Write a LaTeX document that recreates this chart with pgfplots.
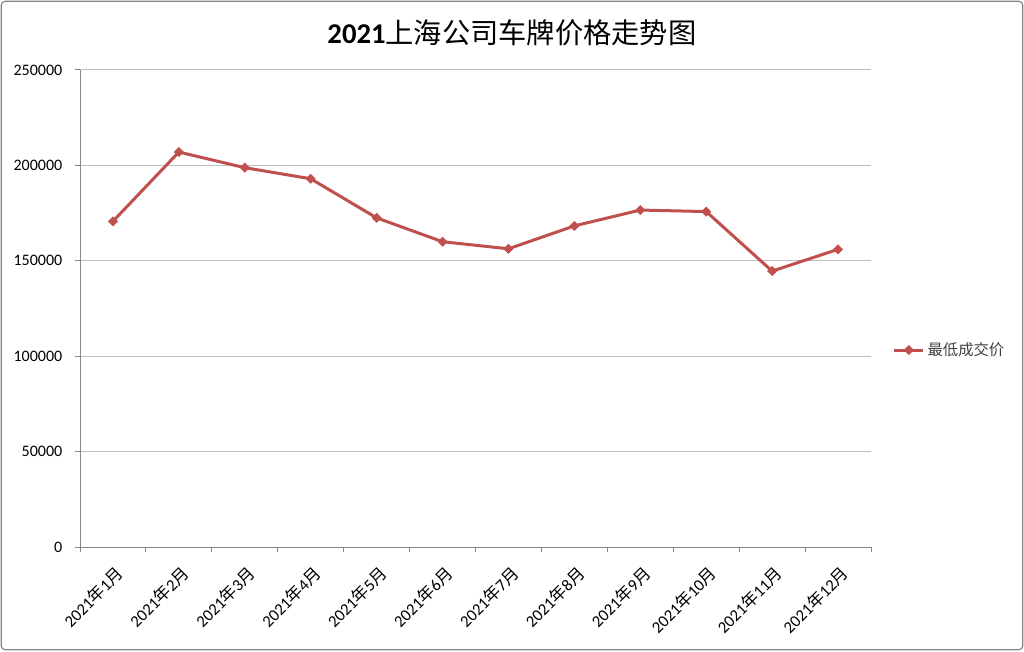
\documentclass[border=0pt]{standalone}
\usepackage{fontspec}
\setmainfont{Carlito}
\newfontfamily\cjk{Noto Sans CJK SC}
\usepackage{pgfplots}
\pgfplotsset{compat=1.18}
\definecolor{ser}{HTML}{C0504D}
\definecolor{axgray}{HTML}{868686}
\definecolor{grd}{HTML}{BFBFBF}
\newcommand{\lbl}[1]{2021{\cjk 年}#1{\cjk 月}}
\begin{document}
\begin{tikzpicture}
\useasboundingbox (0,0) rectangle (768pt,488.25pt);
\draw[axgray, line width=0.9pt, rounded corners=3pt] (0.9pt,0.9pt) rectangle (767.1pt,487.3pt);
\begin{axis}[
  scale only axis,
  width=593.25pt, height=357.75pt,
  anchor=south west, at={(60pt,78pt)},
  xmin=-0.5, xmax=11.5,
  ymin=0, ymax=250000,
  axis x line=bottom, axis y line=left,
  axis line style={-, axgray, line width=0.75pt},
  tick style={axgray, line width=0.75pt},
  tick align=outside,
  major tick length=3.75pt,
  ytick={0,50000,100000,150000,200000,250000},
  ymajorgrids,
  major grid style={grd, line width=0.75pt},
  /pgf/number format/fixed,
  /pgf/number format/precision=0,
  /pgf/number format/assume math mode=true,
  /pgf/number format/1000 sep={},
  scaled y ticks=false,
  yticklabel style={font=\fontsize{12}{14}\selectfont, text=black, xshift=-6pt},
  xtick={-0.5,0.5,...,11.5},
  xticklabels={},
  extra x ticks={0,1,2,3,4,5,6,7,8,9,10,11},
  extra x tick labels={\lbl{1},\lbl{2},\lbl{3},\lbl{4},\lbl{5},\lbl{6},\lbl{7},\lbl{8},\lbl{9},\lbl{10},\lbl{11},\lbl{12}},
  extra x tick style={major tick length=0pt, tick label style={rotate=45, anchor=east, font=\fontsize{12.5}{14}\selectfont, text=black, xshift=-5pt, yshift=-16pt}},
  legend style={at={(1,0.413)}, anchor=west, xshift=14pt, draw=none, fill=none, font=\cjk\fontsize{11.5}{13}\selectfont, text=black!75, inner sep=2pt},
  legend cell align=left,
  legend image code/.code={\draw[mark repeat=2,mark phase=2,#1] plot coordinates {(0pt,0pt) (11pt,0pt) (22pt,0pt)};},
  clip=false,
]
\addplot[ser, line width=2.25pt, mark=square*, mark size=2.4pt, mark options={rotate=45, solid, line width=0.5pt}]
coordinates {
(0,170700) (1,207000) (2,198800) (3,193000) (4,172500) (5,160000)
(6,156300) (7,168300) (8,176600) (9,175800) (10,144600) (11,156000)
};
\addlegendentry{最低成交价}
\end{axis}
\node at (384pt,464pt) {\fontsize{21.5}{24}\selectfont\bfseries 2021{\cjk\mdseries\fontsize{21.2}{26}\selectfont 上海公司车牌价格走势图}};
\end{tikzpicture}
\end{document}
